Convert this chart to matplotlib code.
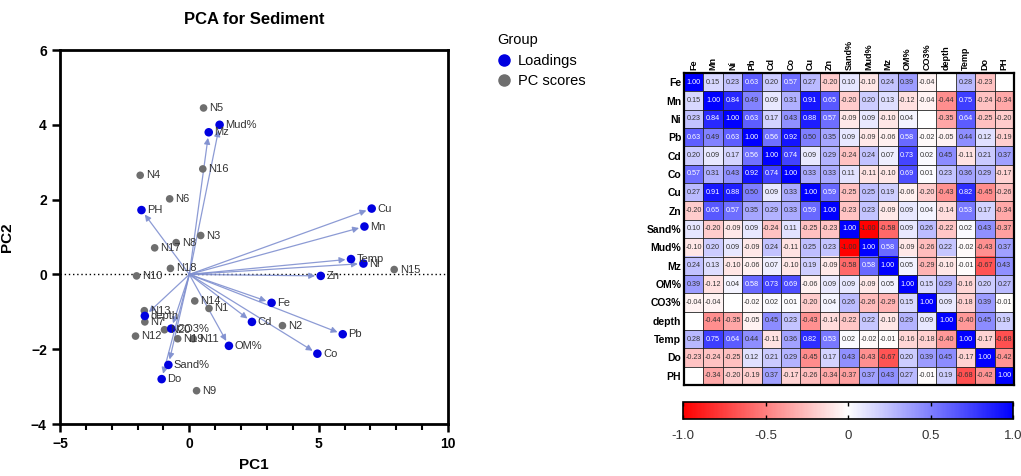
import numpy as np
import matplotlib
matplotlib.use("Agg")
import matplotlib.pyplot as plt
from matplotlib.colors import LinearSegmentedColormap
from matplotlib.lines import Line2D

plt.rcParams['font.family'] = ['Liberation Sans', 'DejaVu Sans']

# ---------------- PCA biplot data ----------------
load_names = ["Mud%", "Mz", "PH", "Cu", "Mn", "Temp", "Ni", "Zn", "Fe", "Cd",
              "Pb", "Co", "OM%", "depth", "CO3%", "Sand%", "Do"]
load_pc1 = [1.17, 0.75, -1.85, 7.05, 6.77, 6.25, 6.73, 5.08, 3.18, 2.42,
            5.93, 4.95, 1.53, -1.72, -0.70, -0.81, -1.07]
load_pc2 = [4.00, 3.80, 1.72, 1.76, 1.28, 0.41, 0.29, -0.04, -0.76, -1.27,
            -1.60, -2.12, -1.91, -1.11, -1.45, -2.42, -2.80]

score_names = ["N1", "N2", "N3", "N4", "N5", "N6", "N7", "N8", "N9", "N10",
               "N11", "N12", "N13", "N14", "N15", "N16", "N17", "N18", "N19", "N20"]
score_pc1 = [0.76, 3.60, 0.44, -1.90, 0.55, -0.76, -1.72, -0.51, 0.28, -2.04,
             0.15, -2.08, -1.74, 0.21, 7.92, 0.52, -1.34, -0.73, -0.45, -0.96]
score_pc2 = [-0.91, -1.37, 1.04, 2.65, 4.45, 2.02, -1.27, 0.85, -3.11, -0.04,
             -1.72, -1.65, -0.97, -0.71, 0.13, 2.82, 0.71, 0.16, -1.72, -1.48]

# ---------------- Correlation matrix data ----------------
var_labels = ["Fe", "Mn", "Ni", "Pb", "Cd", "Co", "Cu", "Zn", "Sand%", "Mud%",
              "Mz", "OM%", "CO3%", "depth", "Temp", "Do", "PH"]
N = np.nan
corr_rows = [
    [1.00, 0.15, 0.23, 0.63, 0.20, 0.57, 0.27, -0.20, 0.10, -0.10, 0.24, 0.39, -0.04, N, 0.28, -0.23, N],
    [0.15, 1.00, 0.84, 0.49, 0.09, 0.31, 0.91, 0.65, -0.20, 0.20, 0.13, -0.12, -0.04, -0.44, 0.75, -0.24, -0.34],
    [0.23, 0.84, 1.00, 0.63, 0.17, 0.43, 0.88, 0.57, -0.09, 0.09, -0.10, 0.04, N, -0.35, 0.64, -0.25, -0.20],
    [0.63, 0.49, 0.63, 1.00, 0.56, 0.92, 0.50, 0.35, 0.09, -0.09, -0.06, 0.58, -0.02, -0.05, 0.44, 0.12, -0.19],
    [0.20, 0.09, 0.17, 0.56, 1.00, 0.74, 0.09, 0.29, -0.24, 0.24, 0.07, 0.73, 0.02, 0.45, -0.11, 0.21, 0.37],
    [0.57, 0.31, 0.43, 0.92, 0.74, 1.00, 0.33, 0.33, 0.11, -0.11, -0.10, 0.69, 0.01, 0.23, 0.36, 0.29, -0.17],
    [0.27, 0.91, 0.88, 0.50, 0.09, 0.33, 1.00, 0.59, -0.25, 0.25, 0.19, -0.06, -0.20, -0.43, 0.82, -0.45, -0.26],
    [-0.20, 0.65, 0.57, 0.35, 0.29, 0.33, 0.59, 1.00, -0.23, 0.23, -0.09, 0.09, 0.04, -0.14, 0.53, 0.17, -0.34],
    [0.10, -0.20, -0.09, 0.09, -0.24, 0.11, -0.25, -0.23, 1.00, -1.00, -0.58, 0.09, 0.26, -0.22, 0.02, 0.43, -0.37],
    [-0.10, 0.20, 0.09, -0.09, 0.24, -0.11, 0.25, 0.23, -1.00, 1.00, 0.58, -0.09, -0.26, 0.22, -0.02, -0.43, 0.37],
    [0.24, 0.13, -0.10, -0.06, 0.07, -0.10, 0.19, -0.09, -0.58, 0.58, 1.00, 0.05, -0.29, -0.10, -0.01, -0.67, 0.43],
    [0.39, -0.12, 0.04, 0.58, 0.73, 0.69, -0.06, 0.09, 0.09, -0.09, 0.05, 1.00, 0.15, 0.29, -0.16, 0.20, 0.27],
    [-0.04, -0.04, N, -0.02, 0.02, 0.01, -0.20, 0.04, 0.26, -0.26, -0.29, 0.15, 1.00, 0.09, -0.18, 0.39, -0.01],
    [N, -0.44, -0.35, -0.05, 0.45, 0.23, -0.43, -0.14, -0.22, 0.22, -0.10, 0.29, 0.09, 1.00, -0.40, 0.45, 0.19],
    [0.28, 0.75, 0.64, 0.44, -0.11, 0.36, 0.82, 0.53, 0.02, -0.02, -0.01, -0.16, -0.18, -0.40, 1.00, -0.17, -0.68],
    [-0.23, -0.24, -0.25, 0.12, 0.21, 0.29, -0.45, 0.17, 0.43, -0.43, -0.67, 0.20, 0.39, 0.45, -0.17, 1.00, -0.42],
    [N, -0.34, -0.20, -0.19, 0.37, -0.17, -0.26, -0.34, -0.37, 0.37, 0.43, 0.27, -0.01, 0.19, -0.68, -0.42, 1.00],
]
cbar_ticks = [-1.0, -0.5, 0, 0.5, 1.0]
cbar_ticklabels = ["-1.0", "-0.5", "0", "0.5", "1.0"]

W, H = 1021, 476
fig = plt.figure(figsize=(W / 100, H / 100), dpi=100)

def fx(px):
    return px / W

def fy(py):
    return 1 - py / H

# ---------------- Biplot ----------------
ax = fig.add_axes([fx(60), fy(424), fx(448) - fx(60), fy(50) - fy(424)])
ax.set_xlim(-5, 10)
ax.set_ylim(-4, 6)
ax.axhline(0, color='black', linestyle=(0, (1, 2)), linewidth=1.0, zorder=1)

arrow_col = '#8090d0'
for x, y in zip(load_pc1, load_pc2):
    ax.annotate("", xy=(x, y), xytext=(0, 0),
                arrowprops=dict(arrowstyle='-|>', color=arrow_col, lw=0.9,
                                shrinkA=0, shrinkB=4, mutation_scale=9, alpha=0.9),
                zorder=2)

gray = '#6e6e6e'
ax.scatter(score_pc1, score_pc2, s=30, color=gray, zorder=3, edgecolors='none')
ax.scatter(load_pc1, load_pc2, s=38, color='#0000e0', zorder=4, edgecolors='none')

lab_col = '#333333'
for n, x, y in zip(score_names, score_pc1, score_pc2):
    ax.annotate(n, (x, y), xytext=(4, 0), textcoords='offset points',
                va='center', ha='left', fontsize=8, color=lab_col, zorder=5)
for n, x, y in zip(load_names, load_pc1, load_pc2):
    ax.annotate(n, (x, y), xytext=(4, 0), textcoords='offset points',
                va='center', ha='left', fontsize=8, color=lab_col, zorder=5)

for s in ax.spines.values():
    s.set_linewidth(2.0)
ax.set_xticks([-5, 0, 5, 10])
ax.set_xticks(np.arange(-5, 10.1, 1), minor=True)
ax.set_yticks([-4, -2, 0, 2, 4, 6])
ax.tick_params(axis='both', which='major', direction='out', length=6, width=1.8,
               labelsize=10)
ax.tick_params(axis='x', which='minor', direction='out', length=4, width=1.5)
for lbl in ax.get_xticklabels() + ax.get_yticklabels():
    lbl.set_fontweight('bold')
ax.set_xlabel("PC1", fontsize=11, fontweight='bold', labelpad=5)
ax.set_ylabel("PC2", fontsize=11, fontweight='bold', labelpad=12)
ax.set_title("PCA for Sediment", fontsize=12, fontweight='bold', pad=19)

handles = [Line2D([], [], marker='o', linestyle='none', color='#0000e0', markersize=8),
           Line2D([], [], marker='o', linestyle='none', color=gray, markersize=8)]
leg = fig.legend(handles, ["Loadings", "PC scores"], title="Group",
                 loc='upper left', bbox_to_anchor=(fx(484), fy(20)), frameon=False,
                 fontsize=10.5, title_fontsize=10.5, handletextpad=0.4,
                 labelspacing=0.45, handlelength=1.0)
leg._legend_box.align = "left"

# ---------------- Heatmap ----------------
data = np.array(corr_rows, dtype=float)
cmap = LinearSegmentedColormap.from_list("rwb", ["#ff0000", "#ffffff", "#0000ff"])
cmap.set_bad('white')
hx = fig.add_axes([fx(684), fy(385), fx(1014) - fx(684), fy(73) - fy(385)])
im = hx.imshow(np.ma.masked_invalid(data), cmap=cmap, vmin=-1, vmax=1,
               aspect='auto', interpolation='nearest')
n = len(var_labels)
hx.set_xticks(np.arange(n))
hx.set_yticks(np.arange(n))
hx.set_xticklabels(var_labels, rotation=90, fontsize=6.5, fontweight='bold')
hx.set_yticklabels(var_labels, fontsize=7.5, fontweight='bold')
hx.xaxis.tick_top()
hx.tick_params(length=0, pad=2)
hx.set_xticks(np.arange(-0.5, n, 1), minor=True)
hx.set_yticks(np.arange(-0.5, n, 1), minor=True)
hx.grid(which='minor', color='#222222', linewidth=0.6)
hx.tick_params(which='minor', length=0)
for s in hx.spines.values():
    s.set_linewidth(1.6)
for i in range(n):
    for j in range(n):
        v = data[i, j]
        if np.isnan(v):
            continue
        c = 'white' if v > 0.52 else '#333333'
        hx.text(j, i, f"{v:.2f}", ha='center', va='center', fontsize=5.2, color=c)

# ---------------- Colorbar ----------------
cx = fig.add_axes([fx(683), fy(419), fx(1013) - fx(683), fy(402) - fy(419)])
cb = fig.colorbar(im, cax=cx, orientation='horizontal')
cb.set_ticks(cbar_ticks)
cb.set_ticklabels(cbar_ticklabels)
cb.outline.set_linewidth(1.2)
cx.tick_params(direction='in', length=3, width=1, labelsize=9.5, pad=8,
               top=True, labelcolor='#333333')

fig.savefig("out.png", dpi=100)
